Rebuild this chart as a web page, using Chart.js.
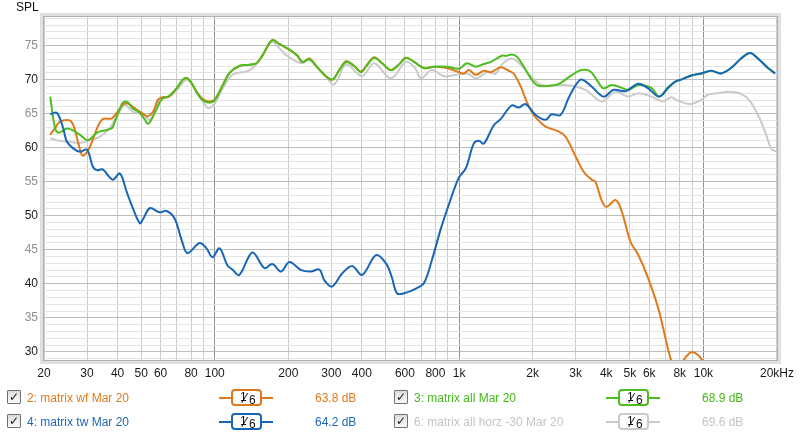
<!DOCTYPE html>
<html>
<head>
  <meta charset="UTF-8">
  <title>SPL</title>
  <script src="https://cdn.jsdelivr.net/npm/chart.js"></script>
  <style>
    body { margin: 0; background: #fff; font-family: "Liberation Sans", Arial, sans-serif; }
    #wrap { position: relative; width: 800px; height: 436px; overflow: hidden; }
    #splTitle { position: absolute; left: 16px; top: 0px; font-size: 12px; line-height: 15px; color: #111; }
    .lg { position: absolute; font-size: 12px; line-height: 14px; white-space: nowrap; }
    .chk { position: absolute; width: 12px; height: 12px; border: 1px solid #707070; border-radius: 1px;
           background: linear-gradient(#dcdcdc, #fafafa); font: bold 12px "DejaVu Sans", sans-serif;
           line-height: 12px; text-align: center; color: #111; }
    .bar { position: absolute; height: 2px; }
    .box { position: absolute; width: 27px; height: 13px; border: 2px solid; border-radius: 4px; background: #fff;
           font-size: 12px; color: #111; }
    .box span { position: absolute; }
  </style>
</head>
<body>
<div id="wrap">
  <canvas id="c" width="800" height="436"></canvas>
  <div id="splTitle">SPL</div>
</div>

<script>
  // frequency response readings (Hz, dB SPL)
  const wfFreq = [21.2, 22.2, 23.2, 25.5, 26.5, 28.1, 28.9, 30.8, 33.2, 34.8, 37.9, 40, 42, 44, 46.2, 49.3, 51.7, 53.2, 56, 58.4,
    61, 65, 70, 74, 77, 80, 84, 89, 95, 100, 107, 115, 126, 139, 148, 157, 172, 184, 202, 218,
    228, 244, 260, 281, 303, 323, 345, 372, 397, 420, 449, 484, 526, 570, 606, 654, 718, 789, 891, 979,
    1045, 1096, 1170, 1262, 1349, 1479, 1596, 1672, 1786, 1889, 2019, 2218, 2323, 2553, 2728, 2998, 3228, 3483, 3614, 3828,
    4010, 4365, 4614, 5024, 5420, 5943, 6531, 7047, 7400, 7800, 8250, 8414, 8914, 9528, 9978, 10500];
  const wfSpl = [61.9, 62.9, 63.8, 64, 63.1, 59.7, 58.8, 60.1, 63.1, 64.2, 64.3, 65.3, 66.3, 66.5, 66, 65.3, 64.8, 64.6, 65.3, 67,
    67.4, 67.5, 68.8, 70, 70.2, 69.6, 68.3, 67.2, 66.8, 67.1, 69, 71, 72, 72.2, 72.4, 73.6, 75.8, 75.2, 74.4, 73.5,
    72.6, 73.1, 72, 70.7, 70, 71.4, 72.7, 72, 71.2, 72.2, 73.3, 72.4, 71.4, 72.3, 73.2, 72.6, 71.7, 71.9, 71.7, 71.2,
    70.9, 71.4, 70.7, 71.3, 71.1, 71.8, 71.3, 70.9, 69, 66.8, 64.8, 63.3, 62.9, 62.4, 61.6, 58.7, 56.5, 55.3, 55, 52.3,
    51.3, 52.3, 50.8, 46.2, 44.2, 40.8, 36.4, 31.5, 28.6, 27.3, 28.6, 29.1, 29.95, 29.5, 28.5, 26.5];

  const allFreq = [21.2, 22.2, 23, 25, 28, 30.2, 33, 36, 38, 39, 41, 42, 44, 46, 49, 52, 53.2, 55, 58, 61,
    65, 70, 74, 77, 80, 84, 89, 95, 100, 107, 115, 126, 139, 148, 157, 172, 184, 202, 218, 228,
    244, 260, 281, 303, 323, 345, 372, 397, 420, 449, 484, 526, 570, 606, 654, 718, 789, 891, 998, 1076,
    1170, 1262, 1349, 1494, 1567, 1641, 1720, 1803, 1982, 2114, 2483, 2626, 2900, 3170, 3450, 3700, 3899, 4198, 4550, 4932,
    5420, 6124, 6592, 7178, 7674, 8110, 8914, 9795, 10765, 11803, 12972, 14258, 15524, 16711, 18372, 19645];
  const allSpl = [67.5, 62.9, 62.2, 62.8, 61.9, 61.1, 62.2, 62.6, 62.9, 63.8, 65.8, 66.6, 66.7, 65.8, 65.2, 64, 63.5, 64.1, 65.8, 67.2,
    67.6, 68.8, 70, 70.2, 69.6, 68.2, 67, 66.6, 67, 68.9, 71, 72, 72.2, 72.4, 73.6, 75.8, 75.2, 74.4, 73.5, 72.6,
    73, 72, 70.7, 70, 71.4, 72.6, 72, 71.1, 72.1, 73.2, 72.4, 71.4, 72.3, 73.2, 72.6, 71.7, 71.9, 71.9, 71.6, 72.4,
    71.9, 72.3, 72.6, 73.5, 73.5, 73.7, 73.4, 72.4, 70, 69.1, 69.2, 69.6, 70.7, 71.4, 71.2, 69.7, 68.7, 69.2, 68.9, 68.5,
    69.2, 68.8, 67.5, 68.9, 69.7, 70, 70.6, 70.9, 71.3, 70.9, 71.7, 73.1, 73.9, 73.1, 71.7, 70.9];

  const twFreq = [21.2, 22.6, 23.9, 24.8, 26.3, 28.1, 30, 31.7, 32.9, 34.8, 38.2, 40.9, 43.6, 46.2, 49.3, 50.7, 54.2, 59.5, 63.5, 68.5,
    73.2, 77.4, 86.7, 92.5, 97.9, 104.6, 112.7, 118, 126, 142.6, 159.6, 172, 187, 202, 226, 248, 268, 281, 302, 332,
    365, 401, 457, 502, 530, 557, 595, 666, 718, 774, 842, 925, 998, 1066, 1148, 1205, 1262, 1387, 1479, 1641,
    1753, 1871, 2057, 2260, 2391, 2600, 2806, 3000, 3170, 3483, 3899, 4285, 4797, 5420, 5943, 6592, 7178, 7674, 8110, 8914,
    9795, 10765, 11803, 12972, 14258, 15524, 16711, 18372, 19645];
  const twSpl = [64.9, 65.1, 63, 60.9, 59.9, 59.4, 59.7, 57.2, 56.7, 56.8, 55.3, 56.2, 53.5, 51.1, 48.9, 49.4, 51.1, 50.5, 50.7, 49.6,
    46.4, 44.5, 46, 45.2, 43.9, 45.2, 42.7, 42.1, 41.3, 44.6, 42.3, 42.9, 41.8, 43.2, 42, 41.8, 42.1, 40.5, 39.6, 41.5,
    42.6, 41.3, 44.2, 43, 41, 38.6, 38.6, 39.3, 40.1, 43.5, 48.1, 52.5, 55.6, 57, 60.6, 61, 60.6, 63.3, 64.2, 66.2,
    65.9, 66.4, 64.8, 64.1, 64.9, 64.8, 67.3, 69.2, 70, 69, 67.5, 68.5, 68.3, 69.4, 68.7, 67.5, 68.8, 69.7, 70, 70.6,
    70.9, 71.3, 70.9, 71.7, 73.1, 73.9, 73.1, 71.7, 70.9];

  const horzFreq = [21.2, 23, 25, 28, 30.8, 33.8, 37.2, 41, 42.8, 46.2, 50.7, 54.2, 59.5, 65, 70, 76.7, 80, 86.7, 92.5, 95.2,
    100, 107, 118, 135, 143, 157, 170, 196, 226, 244, 281, 308, 345, 401, 449, 526, 606, 660, 698, 774,
    867, 979, 1076, 1181, 1298, 1413, 1494, 1641, 1786, 1982, 2176, 2728, 3289, 3828, 4365, 4932, 5420, 6124, 6855, 7380,
    7890, 8832, 9795, 10448, 11482, 12619, 14258, 15524, 16711, 17865, 18911, 19800];
  const horzSpl = [61.4, 61, 60.9, 60.7, 61.1, 61.6, 62.9, 65.5, 66.3, 65.3, 64.9, 64.1, 67, 67.5, 68.5, 70, 69.5, 67.5, 66, 65.8,
    66.5, 68.5, 70.7, 71.2, 71.7, 73.5, 75.6, 73.6, 72.4, 72.9, 70.7, 69.3, 72.2, 70.5, 72.4, 70.2, 72.6, 71.7, 70.2, 71.4,
    70.5, 70.7, 70.9, 70.2, 71.1, 70.9, 72.2, 73.1, 72.2, 70.4, 69.2, 69.2, 68.5, 66.8, 68.2, 67.5, 68, 67.5, 66.8, 67.4,
    66.9, 66.4, 67, 67.8, 68, 68.2, 67.9, 66.8, 64.8, 62.4, 59.9, 59.4];

  // legend texts
  const seriesNames = ['2: matrix wf Mar 20', '3: matrix all Mar 20', '4: matrix tw Mar 20', '6: matrix all horz -30 Mar 20'];
  const seriesLevels = ['63.8 dB', '68.9 dB', '64.2 dB', '69.6 dB'];

  // axis ticks
  const freqGrid = [20, 30, 40, 50, 60, 70, 80, 90, 100, 200, 300, 400, 500, 600, 700, 800, 900,
    1000, 2000, 3000, 4000, 5000, 6000, 7000, 8000, 9000, 10000, 20000];
  const freqLabels = { 20: '20', 30: '30', 40: '40', 50: '50', 60: '60', 80: '80', 100: '100', 200: '200', 300: '300',
    400: '400', 600: '600', 800: '800', 1000: '1k', 2000: '2k', 3000: '3k', 4000: '4k', 5000: '5k', 6000: '6k',
    8000: '8k', 10000: '10k', 20000: '20kHz' };
  const splLabels = [30, 35, 40, 45, 50, 55, 60, 65, 70, 75];

  const toPts = (fs, vs) => fs.map((f, i) => ({ x: f, y: vs[i] }));

  const colors = { wf: '#df7a1c', all: '#4dbd1f', tw: '#1866b6', horz: '#cacaca' };
  const textColors = ['#df7a1c', '#45b81a', '#1c68b8', '#c4c4c4'];
  const lineColors = [colors.wf, colors.all, colors.tw, colors.horz];

  const splGrid = [];
  for (let v = 29; v <= 79; v++) splGrid.push(v);

  const framePlugin = {
    id: 'frame',
    afterDraw(chart) {
      const { ctx, chartArea: a } = chart;
      ctx.save();
      ctx.strokeStyle = '#e0e0e0';
      ctx.lineWidth = 3;
      ctx.strokeRect(a.left - 2.5, a.top - 2.5, a.right - a.left + 5, a.bottom - a.top + 5);
      ctx.strokeStyle = '#b0b0b0';
      ctx.lineWidth = 1;
      ctx.strokeRect(a.left - 0.5, a.top - 0.5, a.right - a.left + 1, a.bottom - a.top + 1);
      ctx.restore();
    }
  };

  new Chart(document.getElementById('c'), {
    type: 'line',
    data: {
      datasets: [
        { label: seriesNames[3], data: toPts(horzFreq, horzSpl), borderColor: colors.horz, order: 3 },
        { label: seriesNames[0], data: toPts(wfFreq, wfSpl), borderColor: colors.wf, order: 2 },
        { label: seriesNames[1], data: toPts(allFreq, allSpl), borderColor: colors.all, order: 1 },
        { label: seriesNames[2], data: toPts(twFreq, twSpl), borderColor: colors.tw, order: 0 }
      ]
    },
    options: {
      responsive: false,
      animation: false,
      layout: { padding: { left: 0, right: 21, top: 17, bottom: 0 } },
      plugins: { legend: { display: false }, tooltip: { enabled: false } },
      elements: { point: { radius: 0 }, line: { borderWidth: 2, tension: 0.35, fill: false } },
      scales: {
        x: {
          type: 'logarithmic',
          min: 20,
          max: 20000,
          afterBuildTicks: axis => { axis.ticks = freqGrid.map(v => ({ value: v })); },
          afterFit: axis => { axis.height = 76; },
          ticks: {
            autoSkip: false, maxRotation: 0, padding: 6, color: '#1a1a1a',
            font: { family: 'Liberation Sans', size: 12 },
            callback: v => freqLabels[v] ?? ''
          },
          grid: {
            drawTicks: false,
            color: c => [100, 1000, 10000].includes(c.tick && c.tick.value) ? '#8e8e8e' : '#cbcbcb'
          },
          border: { display: false }
        },
        y: {
          min: 28.8,
          max: 79.2,
          afterBuildTicks: axis => { axis.ticks = splGrid.map(v => ({ value: v })); },
          afterFit: axis => { axis.width = 44; },
          ticks: {
            autoSkip: false,
            padding: 6,
            font: { family: 'Liberation Sans', size: 12 },
            color: c => c.tick.value % 10 === 0 ? '#1a1a1a' : '#8f8f8f',
            callback: v => splLabels.includes(v) ? String(v) : ''
          },
          grid: {
            drawTicks: false,
            color: c => c.tick && c.tick.value % 5 === 0 ? '#bcbcbc' : '#e4e4e4'
          },
          border: { display: false }
        }
      }
    },
    plugins: [framePlugin]
  });

  // legend (REW style) under the plot
  const wrap = document.getElementById('wrap');
  const slots = [[0, 0], [387, 0], [0, 23.5], [387, 23.5]];
  seriesNames.forEach((name, i) => {
    const dx = slots[i][0], dy = slots[i][1];
    const add = (cls, css, html) => {
      const el = document.createElement('div');
      el.className = cls;
      Object.assign(el.style, css);
      if (html) el.innerHTML = html;
      wrap.appendChild(el);
      return el;
    };
    add('chk', { left: (7 + dx) + 'px', top: (390 + dy) + 'px' }, '&#10003;');
    add('lg', { left: (27 + dx) + 'px', top: (391 + dy) + 'px', color: textColors[i] }, name);
    add('bar', { left: (219 + dx) + 'px', top: (397 + dy) + 'px', width: '54px', background: lineColors[i] });
    add('box', { left: (231 + dx) + 'px', top: (389 + dy) + 'px', borderColor: lineColors[i] },
      '<span style="left:7px;top:-1px">1</span><span style="left:11px;top:-1px;font-size:14px">&#8260;</span><span style="left:16px;top:2px">6</span>');
    add('lg', { left: (315 + dx) + 'px', top: (391 + dy) + 'px', color: textColors[i] }, seriesLevels[i]);
  });
</script>
</body>
</html>
